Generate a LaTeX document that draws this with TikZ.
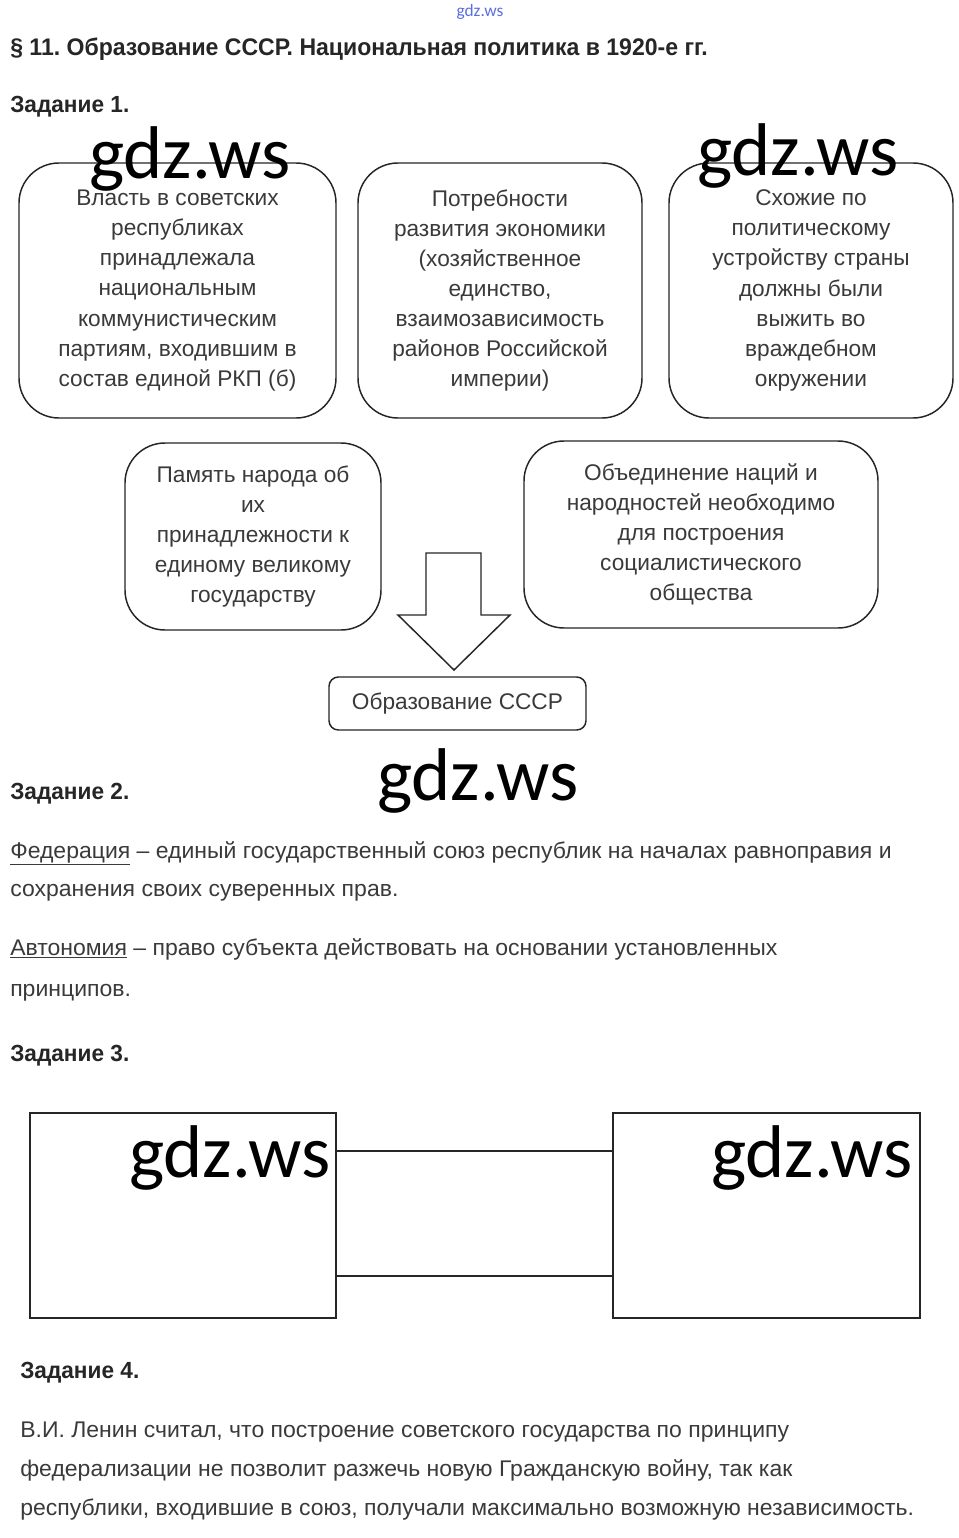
\documentclass[tikz,border=0pt]{standalone}
\usepackage{fontspec}
\setmainfont{Liberation Sans}
\newfontfamily\boxfont{Liberation Sans}
\newfontfamily\headfont[FakeStretch=0.97]{Liberation Sans}
\newfontfamily\titlefont[FakeStretch=0.96]{Liberation Sans}
\newfontfamily\bodyfont[FakeStretch=1.015]{Liberation Sans}
\newfontfamily\wmfont{Carlito}
\frenchspacing
\definecolor{txt}{HTML}{3A3A3A}
\definecolor{wmblue}{HTML}{5B6EE0}
\tikzset{
  rbox/.style={draw=black!85, line width=1.1pt, rounded corners=30pt, align=center,
    font=\boxfont\fontsize{17}{22.6}\selectfont, text=txt, inner sep=0pt},
  sbox/.style={draw=black!85, line width=1.1pt, rounded corners=7pt, align=center,
    font=\boxfont\fontsize{17}{22.6}\selectfont, text=txt, inner sep=0pt},
  heading/.style={anchor=base west, font=\headfont\bfseries\fontsize{17.5}{20}\selectfont, text=black!85, inner sep=0pt},
  body/.style={anchor=base west, font=\bodyfont\fontsize{17}{20}\selectfont, text=txt, inner sep=0pt},
  wm/.style={anchor=base, font=\wmfont\fontsize{56}{60}\selectfont, text=black, inner sep=0pt},
  sqbox/.style={draw=black!85, line width=1.2pt, inner sep=0pt},
  link/.style={draw=black!85, line width=1.2pt}
}
\begin{document}
\begin{tikzpicture}[x=0.75pt,y=-0.75pt]
\fill[white] (0,0) rectangle (959,1538);
\useasboundingbox (0,0) rectangle (959,1538);

% small top watermark
\node[anchor=base, font=\wmfont\fontsize{13}{14}\selectfont, text=wmblue, inner sep=0pt] (wmtop) at (480,17) {gdz.ws};

% title and headings
\node[heading, font=\titlefont\bfseries\fontsize{18}{21}\selectfont] (title) at (10,56) {§ 11. Образование СССР. Национальная политика в 1920-е гг.};
\node[heading] (z1) at (10,113) {Задание 1.};

% task 1 boxes
\node[rbox, minimum width=237.75pt, minimum height=191.25pt] (b1) at (177.5,290.5)
  {Власть в советских\\республиках\\принадлежала\\национальным\\коммунистическим\\партиям, входившим в\\состав единой РКП (б)};
\node[rbox, minimum width=213pt, minimum height=191.25pt] (b2) at (500,290.5)
  {Потребности\\развития экономики\\(хозяйственное\\единство,\\взаимозависимость\\районов Российской\\империи)};
\node[rbox, minimum width=213pt, minimum height=191.25pt] (b3) at (811,290.5)
  {Схожие по\\политическому\\устройству страны\\должны были\\выжить во\\враждебном\\окружении};
\node[rbox, minimum width=192pt, minimum height=140.25pt] (b4) at (253,536.5)
  {Память народа об\\их\\принадлежности к\\единому великому\\государству};
\node[rbox, minimum width=265.5pt, minimum height=140.25pt] (b5) at (701,534.5)
  {Объединение наций и\\народностей необходимо\\для построения\\социалистического\\общества};
\node[sbox, minimum width=192.75pt, minimum height=39.75pt] (b6) at (457.5,703.5)
  {Образование СССР};

% big hollow arrow
\coordinate (atip) at (454,670);
\draw[black!85, line width=1.1pt, line join=miter, fill=white]
  (426,553) -- (481,553) -- (481,615) -- (510,615) -- (atip) -- (398,615) -- (426,615) -- cycle;

% watermarks over task 1
\node[wm] (wm1) at (190,178) {gdz.ws};
\node[wm] (wm2) at (798,175) {gdz.ws};
\node[wm] (wm3) at (478,800) {gdz.ws};

% task 2
\node[heading] (z2) at (10,799) {Задание 2.};
\node[body] (fed1) at (10,858) {\underline{Федерация} – единый государственный союз республик на началах равноправия и};
\node[body] (fed2) at (10,896) {сохранения своих суверенных прав.};
\node[body] (aut1) at (10,955) {\underline{Автономия} – право субъекта действовать на основании установленных};
\node[body] (aut2) at (10,996) {принципов.};

% task 3
\node[heading] (z3) at (10,1061) {Задание 3.};
\node[sqbox, minimum width=229.5pt, minimum height=153.75pt] (s1) at (183,1215.5) {};
\node[sqbox, minimum width=230.25pt, minimum height=153.75pt] (s2) at (766.5,1215.5) {};
\draw[link] (s1.east |- 0,1151) -- (s2.west |- 0,1151);
\draw[link] (s1.east |- 0,1276) -- (s2.west |- 0,1276);
\node[wm] (wm4) at (230,1177) {gdz.ws};
\node[wm] (wm5) at (812,1177) {gdz.ws};

% task 4
\node[heading] (z4) at (20,1378) {Задание 4.};
\node[body] (len1) at (20,1437) {В.И. Ленин считал, что построение советского государства по принципу};
\node[body] (len2) at (20,1476) {федерализации не позволит разжечь новую Гражданскую войну, так как};
\node[body] (len3) at (20,1515) {республики, входившие в союз, получали максимально возможную независимость.};
\end{tikzpicture}
\end{document}
